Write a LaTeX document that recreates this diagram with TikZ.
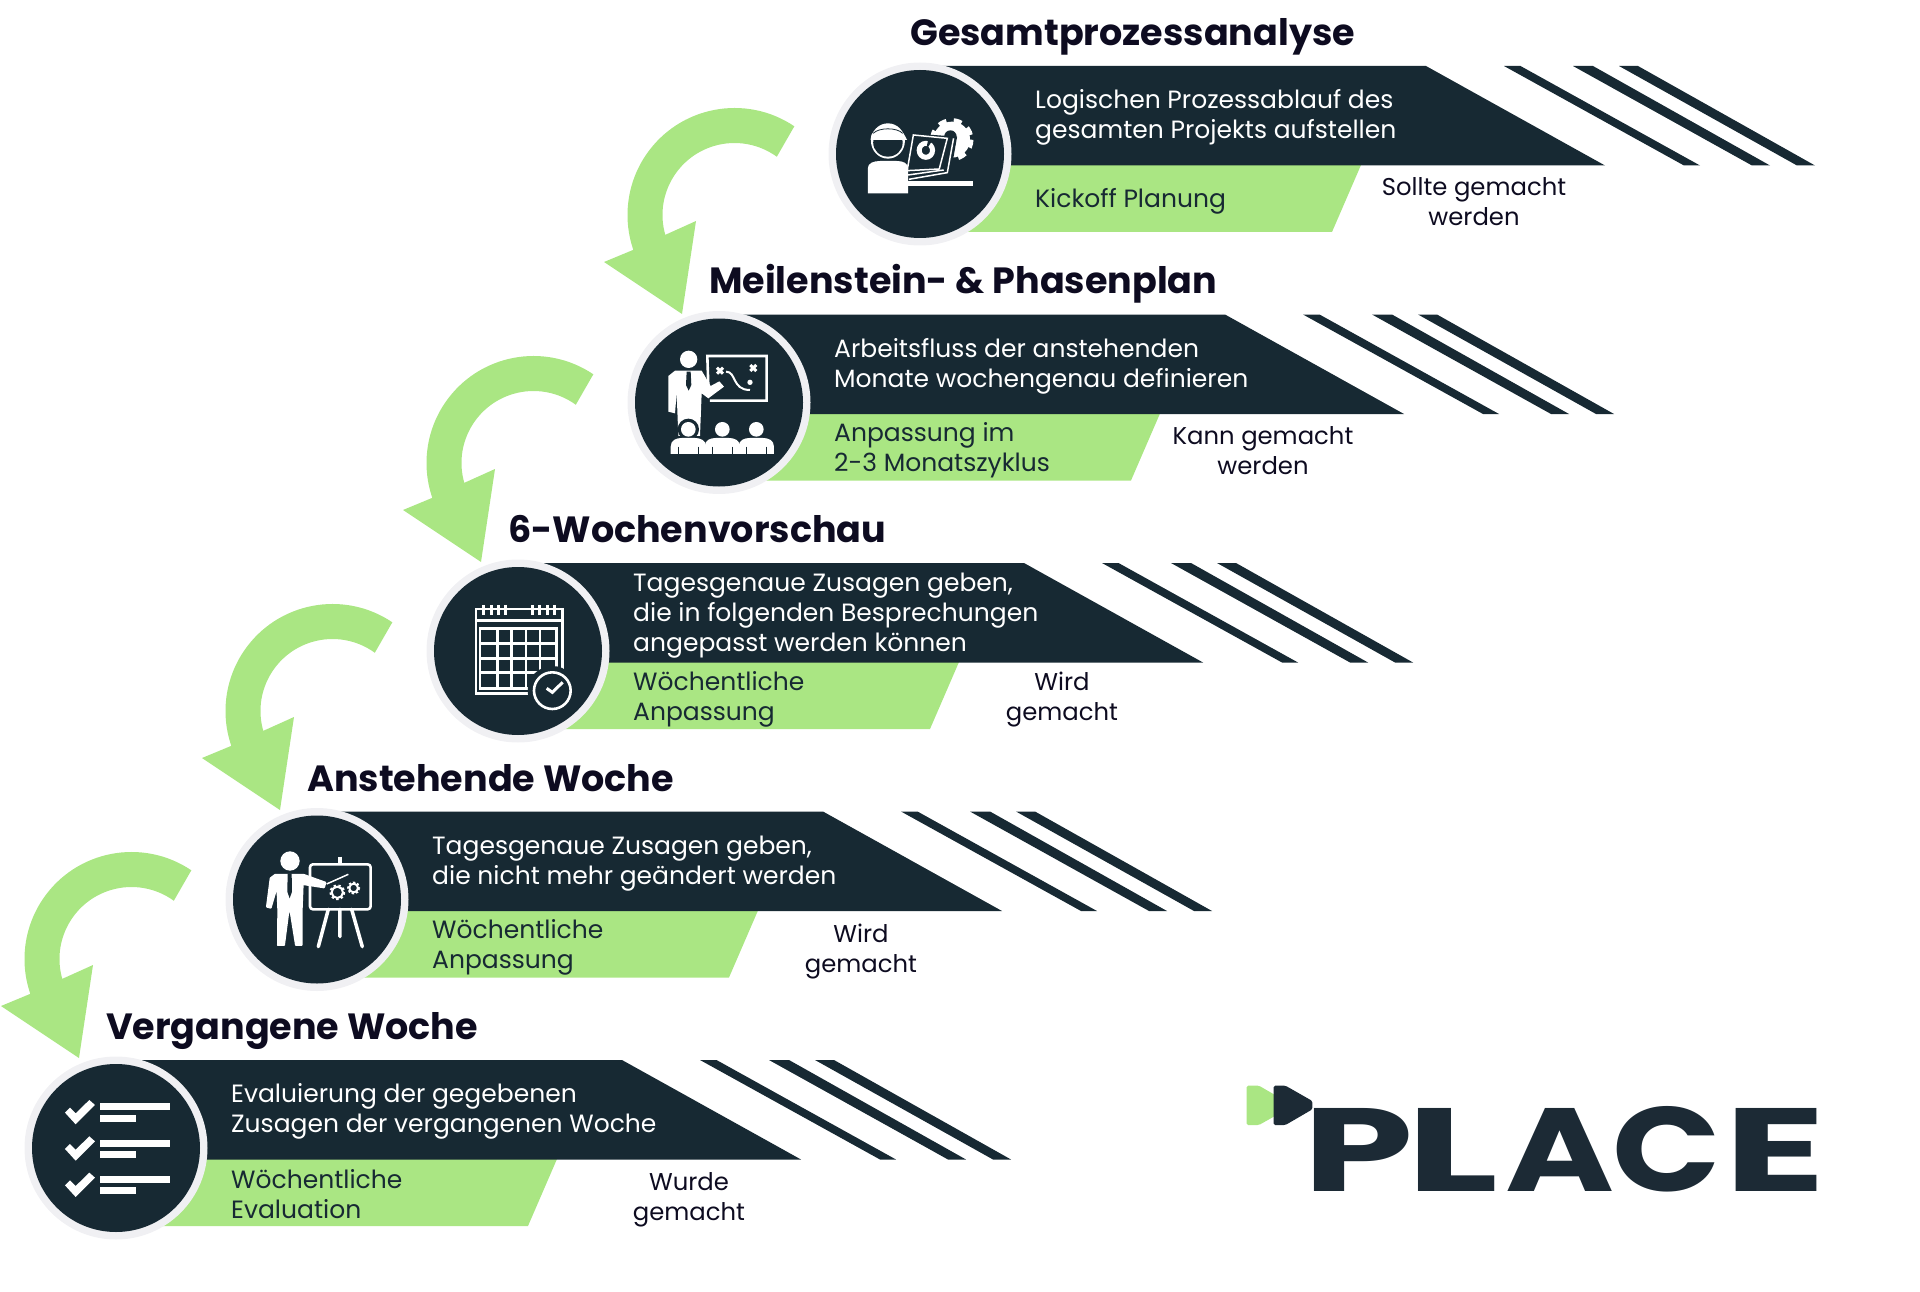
\documentclass[tikz,border=0pt]{standalone}
\usepackage{fontspec}
\usepackage{graphicx}
\setmainfont{Poppins}
\definecolor{placedark}{HTML}{172933}
\definecolor{placegreen}{HTML}{AAE683}
\definecolor{placering}{HTML}{F0F0F3}
\definecolor{placeink}{HTML}{0D0B20}
\definecolor{placelogo}{HTML}{1C2A35}
\tikzset{
	headtext/.style={anchor=base west, inner sep=0pt, text=placeink, font=\fontsize{36.5}{40}\selectfont\bfseries},
	bodytext/.style={anchor=west, inner sep=0pt, align=left, text=white, font=\fontsize{25}{30}\selectfont},
	greentext/.style={anchor=west, inner sep=0pt, align=left, text=placedark, font=\fontsize{25}{30}\selectfont},
	sidetext/.style={inner sep=0pt, align=center, text=placeink, font=\fontsize{24.3}{30}\selectfont},
	iconline/.style={draw=white, line width=#1},
	iconline/.default=2.6pt
}
\begin{document}
\begin{tikzpicture}[x=1pt, y=-1pt, line join=miter]
	\useasboundingbox (0,0) rectangle (1920,1292);

	%Curved arrows between the rows
	\foreach \k in {0,1,2,3} {
		\begin{scope}[shift={({201*\k},{-248*\k})}]
			\coordinate (arrowc) at (131.5,959);
			\coordinate (barbout) at (1,1006);
			\coordinate (barbin) at (93,965);
			\coordinate (arrowtip) at (79,1058);
			\fill[placegreen] ([shift={(-56:107)}]arrowc) arc[start angle=-56, end angle=-199, radius=107]
				-- (barbout) -- (arrowtip) -- (barbin) -- ([shift={(-196:72)}]arrowc)
				arc[start angle=-196, end angle=-54, radius=72] -- cycle;
		\end{scope}
	}

	%Bars, stripes and discs
	\foreach \cx/\cy in {920/154, 719/402.5, 518/651, 317/899.5, 116/1148} {
		\begin{scope}[shift={(\cx,\cy)}]
			\fill[placegreen] (0,11) -- (441,11) -- (412,78) -- (0,78) -- cycle;
			\fill[placedark] (0,-88) -- (506,-88) -- (685,11.5) -- (0,11.5) -- cycle;
			\fill[placedark] (584,-88) -- (600.5,-88) -- (780,11.5) -- (764,11.5) -- cycle;
			\fill[placedark] (653,-88) -- (673,-88) -- (850,11.5) -- (832,11.5) -- cycle;
			\fill[placedark] (699,-88) -- (718,-88) -- (895,11.5) -- (877,11.5) -- cycle;
			\fill[placering] (0,0) circle[radius=91.5];
			\fill[placedark] (0,0) circle[radius=84];
		\end{scope}
	}

	%Row 1
	\node[headtext] (titleanalyse) at (910,45.5) {Gesamtprozessanalyse};
	\node[bodytext] (bodyanalyse) at (1035,117.5) {Logischen Prozessablauf des\\gesamten Projekts aufstellen};
	\node[greentext] (cycleanalyse) at (1035,201.5) {Kickoff Planung};
	\node[sidetext] (sideanalyse) at (1474,202) {Sollte gemacht\\werden};

	%Row 2
	\node[headtext] (titleplan) at (709,293.5) {Meilenstein- \& Phasenplan};
	\node[bodytext] (bodyplan) at (834,366) {Arbeitsfluss der anstehenden\\Monate wochengenau definieren};
	\node[greentext] (cycleplan) at (834,450.5) {Anpassung im\\2-3 Monatszyklus};
	\node[sidetext] (sideplan) at (1263,451) {Kann gemacht\\werden};

	%Row 3
	\node[headtext] (titlepreview) at (508,542.5) {6-Wochenvorschau};
	\node[bodytext] (bodypreview) at (633,615.5) {Tagesgenaue Zusagen geben,\\die in folgenden Besprechungen\\angepasst werden können};
	\node[greentext] (cyclepreview) at (633,699.5) {Wöchentliche\\Anpassung};
	\node[sidetext] (sidepreview) at (1062,699.5) {Wird\\gemacht};

	%Row 4
	\node[headtext] (titleweek) at (307,791) {Anstehende Woche};
	\node[bodytext] (bodyweek) at (432,863.5) {Tagesgenaue Zusagen geben,\\die nicht mehr geändert werden};
	\node[greentext] (cycleweek) at (432,947.5) {Wöchentliche\\Anpassung};
	\node[sidetext] (sideweek) at (861,951.5) {Wird\\gemacht};

	%Row 5
	\node[headtext] (titlepast) at (106,1039.5) {Vergangene Woche};
	\node[bodytext] (bodypast) at (231,1111.5) {Evaluierung der gegebenen\\Zusagen der vergangenen Woche};
	\node[greentext] (cyclepast) at (231,1194.5) {Wöchentliche\\Evaluation};
	\node[sidetext] (sidepast) at (689,1199.5) {Wurde\\gemacht};

	%Icon row 1
	\begin{scope}[shift={(600,0)}, x=0.4464pt, y=-0.3333pt]
		\draw[white, line width=5pt, dash pattern=on 8pt off 7.3pt] (788,419) ellipse[x radius=43, y radius=57];
		\fill[white] (788,419) ellipse[x radius=41, y radius=54];
		\fill[placedark] (785,410) ellipse[x radius=14, y radius=19];
		\fill[white] (600,580) -- (600,505) .. controls (600,490) and (612,483) .. (628,483) -- (664,483)
			.. controls (680,483) and (690,490) .. (690,505) -- (690,580) -- cycle;
		\fill[white] (690,543) rectangle (836,558);
		\fill[white] (645,423) ellipse[x radius=38, y radius=53];
		\fill[placedark] (645,428) ellipse[x radius=33, y radius=42];
		\fill[white] (608,405) .. controls (615,375) and (675,375) .. (682,405) -- (688,420) -- (606,420) -- cycle;
		\draw[placedark, line width=0.8pt] (612,400) .. controls (625,382) and (665,382) .. (678,400);
		\fill[placedark] (700,530) -- (695,400) -- (800,410) -- (785,525) -- cycle;
		\draw[white, line width=1.5pt] (702,405) -- (778,415) -- (760,507) -- (688,512) -- cycle;
		\draw[white, line width=1.5pt] (692,538) -- (778,518) -- (792,415);
		\draw[white, line width=1.5pt] (690,525) -- (770,510);
		\draw[white, line width=5pt] (730,451) ellipse[x radius=15, y radius=21];
		\fill[placedark] (730,452) -- (735,420) -- (745,420) -- cycle;
	\end{scope}

	%Icon row 2
	\begin{scope}[shift={(620,310)}, x=0.3333pt, y=-0.3333pt]
		\fill[white] (206,148) circle[radius=26];
		\fill[white] (165,182) -- (245,182) -- (272,228) -- (298,214) -- (312,230) -- (265,265) -- (245,250)
			-- (240,378) -- (175,378) -- (170,250) -- (165,310) -- (145,305) -- (145,198) -- cycle;
		\fill[placedark] (200,185) -- (212,185) -- (214,225) -- (206,242) -- (198,225) -- cycle;
		\draw[iconline] (265,228) -- (262,138) -- (440,138) -- (440,272) -- (270,272);
		\draw[iconline=3pt] (291,173) -- (309,191) (309,173) -- (291,191) (391,165) -- (409,183) (409,165) -- (391,183);
		\draw[iconline=2pt] (318,185) .. controls (350,185) and (335,240) .. (390,240);
		\fill[white] (390,217) circle[radius=8];
		\fill[placedark] (205,358) circle[radius=32];
		\foreach \hx in {205,307,409} {
			\fill[white] (\hx,358) circle[radius=22];
			\fill[white] ({\hx-53},432) -- ({\hx-53},410) .. controls ({\hx-53},390) and ({\hx-35},384) .. ({\hx-20},384)
				-- ({\hx+20},384) .. controls ({\hx+35},384) and ({\hx+53},390) .. ({\hx+53},410) -- ({\hx+53},432) -- cycle;
			\draw[placedark, line width=0.8pt] ({\hx-29},410) -- ({\hx-29},432) ({\hx+29},410) -- ({\hx+29},432);
		}
	\end{scope}

	%Icon row 3
	\begin{scope}[shift={(420,560)}, x=0.3333pt, y=-0.3333pt]
		\draw[iconline] (168,147) rectangle (428,400);
		\draw[iconline] (168,182) -- (428,182);
		\foreach \tx in {190,215,235,258,338,360,382,403} {
			\draw[iconline=3pt] (\tx,135) -- (\tx,165);
		}
		\draw[iconline] (180,205) rectangle (410,385);
		\foreach \gx in {232,275,318,360} {
			\draw[iconline] (\gx,205) -- (\gx,385);
		}
		\foreach \gy in {250,295,338} {
			\draw[iconline] (180,\gy) -- (410,\gy);
		}
		\fill[placedark] (397,392) circle[radius=74];
		\draw[iconline] (397,392) circle[radius=55];
		\draw[iconline=3pt] (380,385) -- (397,397) -- (428,367);
	\end{scope}

	%Icon row 4
	\begin{scope}[shift={(220,810)}, x=0.3333pt, y=-0.3333pt, line join=round]
		\fill[white] (210,153) circle[radius=29];
		\draw[fill=white, draw=white, line width=2pt] (165,195) -- (252,195) -- (316,218) -- (312,232) -- (248,222) -- (245,300) -- (245,405)
			-- (228,405) -- (212,305) -- (205,305) -- (192,405) -- (174,405) -- (175,300) -- (172,225) -- (152,293) -- (141,290) -- (152,205) -- cycle;
		\fill[placedark] (203,190) -- (215,190) -- (216,245) -- (209,265) -- (202,245) -- cycle;
		\draw[iconline, rounded corners=3pt] (270,163) rectangle (452,298);
		\draw[iconline=4.5pt] (360,140) -- (360,163);
		\draw[iconline=3.5pt, line cap=round] (325,298) -- (295,410) (360,298) -- (360,380) (395,298) -- (427,410);
		\draw[iconline=1.5pt] (320,222) -- (385,193);
		\draw[iconline=2pt] (352,247) circle[radius=17];
		\draw[iconline=2.5pt, dash pattern=on 2.3pt off 2.3pt] (352,247) circle[radius=20];
		\draw[iconline=2pt] (401,234) circle[radius=13];
		\draw[iconline=2.5pt, dash pattern=on 2pt off 2pt] (401,234) circle[radius=16];
	\end{scope}

	%Icon row 5
	\begin{scope}[shift={(10,1060)}, x=0.3333pt, y=-0.3333pt]
		\foreach \dy in {0,109,218} {
			\fill[white] (165,{158+\dy}) -- (197,{193+\dy}) -- (255,{135+\dy}) -- (238,{120+\dy}) -- (197,{160+\dy}) -- (180,{143+\dy}) -- cycle;
			\fill[white] (270,{130+\dy}) rectangle (481,{151+\dy});
			\fill[white] (270,{164+\dy}) rectangle (377,{185+\dy});
		}
	\end{scope}

	%Logo
	\begin{scope}[shift={(1240,1070)}, x=0.3954pt, y=-0.3333pt]
		\fill[placegreen, rounded corners=1.5pt] (17,47) -- (48,47) -- (90,76) -- (90,137) -- (48,165) -- (17,165) -- cycle;
		\fill[placelogo, rounded corners=1.5pt] (85,47) -- (115,47) -- (183,93) -- (183,118) -- (115,165) -- (85,165) -- cycle;
		\node[anchor=base west, inner sep=0pt, text=placelogo, font=\bfseries] (logoword) at (159,365)
			{\resizebox{110pt}{83pt}{P}\hspace{-7pt}\resizebox{92pt}{83pt}{L}\hspace{7pt}\resizebox{109pt}{83pt}{A}\hspace{-1.5pt}\resizebox{108.5pt}{85pt}{C}\hspace{3pt}\resizebox{101.5pt}{83pt}{E}};
	\end{scope}
\end{tikzpicture}
\end{document}
